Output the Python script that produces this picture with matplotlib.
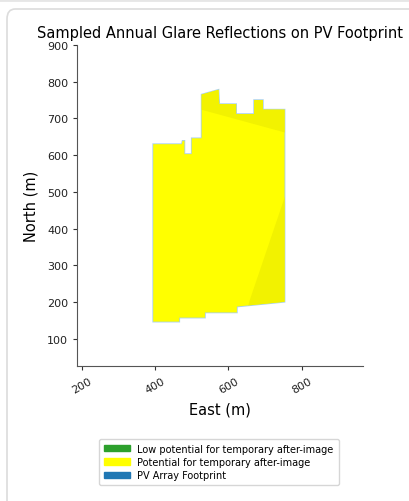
import matplotlib
matplotlib.use("Agg")
import matplotlib.pyplot as plt
from matplotlib.patches import Polygon, Patch, FancyBboxPatch
from matplotlib.lines import Line2D

# PV footprint outline (East, North) in metres
east = [395, 473, 475, 480, 480, 500, 500, 527, 527, 573, 575, 621, 621, 670,
        670, 694, 694, 753, 753, 623, 623, 536, 536, 466, 466, 395]
north = [630, 630, 639, 639, 603, 603, 646, 646, 765, 778, 739, 739, 712, 712,
         750, 750, 724, 724, 201, 188, 172, 172, 158, 158, 147, 147]

# slightly denser glare regions (darker yellow)
top_e = [500, 753, 760, 760, 500]
top_n = [731, 662, 662, 800, 800]
bot_e = [760, 658, 640, 760]
bot_n = [505, 205, 140, 140]

xticks = [200, 400, 600, 800]
yticks = [100, 200, 300, 400, 500, 600, 700, 800, 900]
legend_labels = ["Low potential for temporary after-image",
                 "Potential for temporary after-image",
                 "PV Array Footprint"]
legend_colors = ["#2ca02c", "#ffff00", "#1f77b4"]

fig = plt.figure(figsize=(4.10, 5.02), dpi=100)

# notebook card frame
fig.patches.append(FancyBboxPatch((7 / 410, -0.1), 1.2, 1.1 - 10 / 502,
                                  boxstyle="round,pad=0,rounding_size=0.02",
                                  transform=fig.transFigure, fc="white",
                                  ec="#dcdcdc", lw=1.2, zorder=-1))
fig.lines.append(Line2D([0, 1], [0.998, 0.998], transform=fig.transFigure,
                        color="#e6e6e6", lw=2))

ax = fig.add_axes([0.1885, 0.2695, 0.6961, 0.6389])
pts = list(zip(east, north))
ax.add_patch(Polygon(pts, closed=True, fc="#1f77b4", ec="#a9d0ea", lw=1.2, zorder=1))
main = Polygon(pts, closed=True, fc="#ffff00", ec="none", zorder=2)
ax.add_patch(main)
for ee, nn in [(top_e, top_n), (bot_e, bot_n)]:
    p = Polygon(list(zip(ee, nn)), closed=True, fc="#f2f200", ec="none", zorder=3)
    ax.add_patch(p)
    p.set_clip_path(main)

ax.set_xlim(188, 966)
ax.set_ylim(27, 900)
ax.set_xticks(xticks)
ax.set_yticks(yticks)
ax.tick_params(labelsize=8, length=3, color="#333333", labelcolor="#222222")
ax.tick_params(axis="x", pad=4)
plt.setp(ax.get_xticklabels(), rotation=30, ha="center")
for s in ["top", "right"]:
    ax.spines[s].set_visible(False)
for s in ["left", "bottom"]:
    ax.spines[s].set_color("#555555")
    ax.spines[s].set_linewidth(0.8)

ax.set_title("Sampled Annual Glare Reflections on PV Footprint", fontsize=10.5, pad=6)
ax.set_xlabel("East (m)", fontsize=10.5, labelpad=5)
ax.set_ylabel("North (m)", fontsize=10.5, labelpad=6)

handles = [Patch(color=c) for c in legend_colors]
fig.legend(handles, legend_labels, loc="center", bbox_to_anchor=(219 / 410, 1 - 463 / 502),
           fontsize=7, frameon=True, handlelength=2.6, handleheight=0.6,
           borderpad=0.5, labelspacing=0.35, edgecolor="#cccccc", fancybox=True)

fig.savefig("out.png", dpi=100)
